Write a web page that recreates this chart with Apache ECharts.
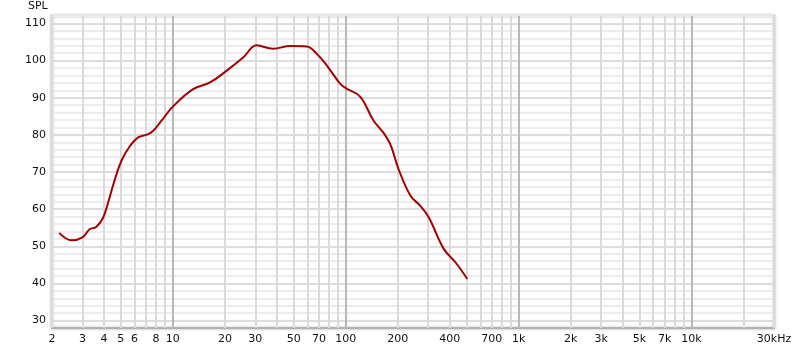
<!DOCTYPE html>
<html>
<head>
<meta charset="utf-8">
<script src="https://cdn.jsdelivr.net/npm/echarts@6/dist/echarts.min.js"></script>
<style>
html,body{margin:0;padding:0;background:#fff;}
#c{width:800px;height:350px;}
</style>
</head>
<body>
<div id="c"></div>
<script>
var freqHz = [2.2, 2.6, 3.0, 3.3, 3.6, 3.95, 4.2, 4.6, 5.05, 5.65, 6.3, 7.2, 7.7, 8.6, 10, 13.1, 16.4, 20.5, 25.6, 30.5, 38, 47.7, 59.5, 68, 78, 93, 100, 121, 145, 165, 181, 202, 237, 270, 302, 369, 431, 505];
var splDb = [53.6, 51.6, 52.4, 54.6, 55.2, 57.7, 61.4, 67.7, 73.1, 77.0, 79.3, 80.2, 81.1, 83.8, 87.6, 92.3, 94.1, 97.3, 100.9, 104.1, 103.2, 103.9, 103.8, 101.8, 98.6, 93.7, 92.6, 90.3, 83.8, 80.6, 77.5, 70.8, 63.6, 60.9, 57.8, 49.3, 45.7, 41.2];
var xTickLabels = [2, 3, 4, 5, 6, 8, 10, 20, 30, 50, 70, 100, 200, 400, 700, 1000, 2000, 3000, 5000, 7000, 10000, 30000];
var xMinorGrid = [2,3,4,5,6,7,8,9,20,30,40,50,60,70,80,90,200,300,400,500,600,700,800,900,2000,3000,4000,5000,6000,7000,8000,9000,20000,30000];
var xMajorGrid = [10, 100, 1000, 10000];
var yTickLabels = [30, 40, 50, 60, 70, 80, 90, 100, 110];
var yMinorGrid = [30,32,34,36,38,42,44,46,48,52,54,56,58,62,64,66,68,72,74,76,78,82,84,86,88,92,94,96,98,102,104,106,108,112];

function fmtFreq(v) {
  if (v >= 30000) return '30kHz';
  if (v >= 1000) return (v / 1000) + 'k';
  return String(v);
}

var chart = echarts.init(document.getElementById('c'), null, {renderer: 'canvas'});
var font = 'DejaVu Sans';
chart.setOption({
  animation: false,
  backgroundColor: '#fff',
  grid: {
    left: 52, right: 26, top: 16, bottom: 22,
    containLabel: false,
    outerBoundsMode: 'none',
    show: true,
    backgroundColor: '#fff',
    borderColor: '#b0b0b0',
    borderWidth: 2,
    shadowColor: 'rgba(0,0,0,0.25)',
    shadowBlur: 3,
    shadowOffsetX: 0,
    shadowOffsetY: 0
  },
  graphic: [{
    type: 'text', left: 28, top: 1,
    style: {text: 'SPL', font: '11px "DejaVu Sans"', fill: '#111'}
  }],
  xAxis: [{
    type: 'log', logBase: 10, min: 2, max: 30000,
    axisLine: {show: false},
    axisTick: {show: false, customValues: xMinorGrid},
    splitLine: {show: true, lineStyle: {color: '#dadada', width: 2}},
    axisLabel: {
      customValues: xTickLabels,
      formatter: fmtFreq,
      color: '#111', fontFamily: font, fontSize: 11, margin: 6,
      showMinLabel: true, showMaxLabel: true, hideOverlap: false
    }
  }, {
    type: 'log', logBase: 10, min: 2, max: 30000,
    axisLine: {show: false},
    axisTick: {show: false, customValues: xMajorGrid},
    splitLine: {show: true, lineStyle: {color: '#b8b8b8', width: 2}},
    axisLabel: {show: false}
  }],
  yAxis: [{
    type: 'value', min: 28, max: 112,
    axisLine: {show: false},
    axisTick: {show: false, customValues: yMinorGrid},
    splitLine: {show: true, lineStyle: {color: '#ececec', width: 2}},
    axisLabel: {
      customValues: yTickLabels,
      color: '#111', fontFamily: font, fontSize: 11, margin: 6
    }
  }, {
    type: 'value', min: 28, max: 112,
    axisLine: {show: false},
    axisTick: {show: false, customValues: yTickLabels},
    splitLine: {show: true, lineStyle: {color: '#dcdcdc', width: 2}},
    axisLabel: {show: false}
  }],
  series: [{
    type: 'line',
    xAxisIndex: 0, yAxisIndex: 0,
    data: freqHz.map(function (f, i) { return [f, splDb[i]]; }),
    smooth: 0.4,
    showSymbol: false,
    symbol: 'none',
    lineStyle: {color: '#a30000', width: 2},
    z: 10
  }]
});
</script>
</body>
</html>
